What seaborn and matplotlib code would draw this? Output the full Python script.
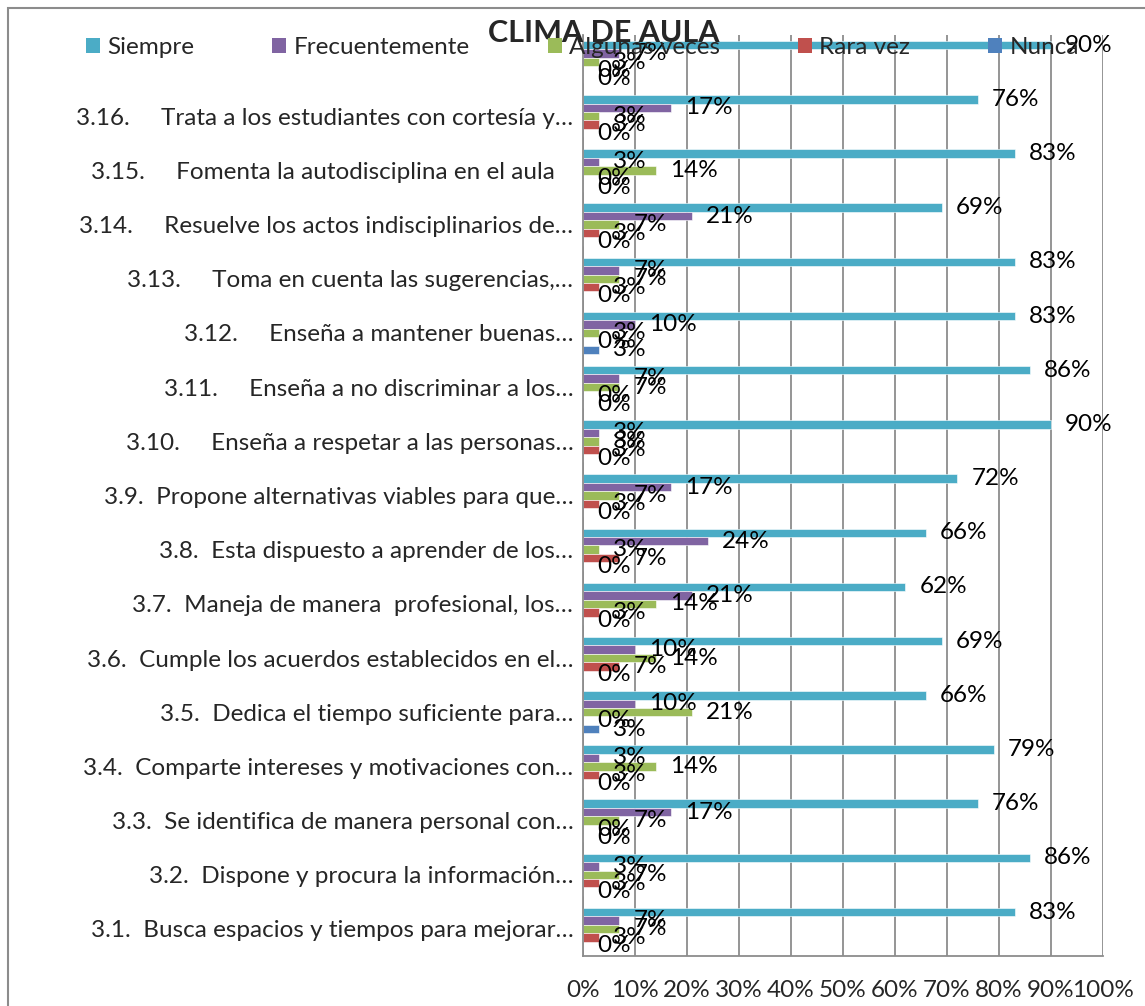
import matplotlib
matplotlib.use("Agg")
import matplotlib.pyplot as plt
import matplotlib.patches as mpatches
import seaborn as sns
import pandas as pd

# ---------------- data ----------------
categories = [
    "",
    "3.16.     Trata a los estudiantes con cortesía y…",
    "3.15.     Fomenta la autodisciplina en el aula   ",
    "3.14.     Resuelve los actos indisciplinarios de…",
    "3.13.     Toma en cuenta las sugerencias,…",
    "3.12.     Enseña a mantener buenas…",
    "3.11.     Enseña a no discriminar a los…",
    "3.10.     Enseña a respetar a las personas…",
    "3.9.  Propone alternativas viables para que…",
    "3.8.  Esta dispuesto a aprender de los…",
    "3.7.  Maneja de manera  profesional, los…",
    "3.6.  Cumple los acuerdos establecidos en el…",
    "3.5.  Dedica el tiempo suficiente para…",
    "3.4.  Comparte intereses y motivaciones con…",
    "3.3.  Se identifica de manera personal con…",
    "3.2.  Dispone y procura la información…",
    "3.1.  Busca espacios y tiempos para mejorar…",
]
series_names = ["Siempre", "Frecuentemente", "Algunas veces", "Rara vez", "Nunca"]
siempre        = [90, 76, 83, 69, 83, 83, 86, 90, 72, 66, 62, 69, 66, 79, 76, 86, 83]
frecuentemente = [7, 17, 3, 21, 7, 10, 7, 3, 17, 24, 21, 10, 10, 3, 17, 3, 7]
algunas_veces  = [3, 3, 14, 7, 7, 3, 7, 3, 7, 3, 14, 14, 21, 14, 7, 7, 7]
rara_vez       = [0, 3, 0, 3, 3, 0, 0, 3, 3, 7, 3, 7, 0, 3, 0, 3, 3]
nunca          = [0, 0, 0, 0, 0, 3, 0, 0, 0, 0, 0, 0, 3, 0, 0, 0, 0]
x_ticks = [0, 10, 20, 30, 40, 50, 60, 70, 80, 90, 100]
title = "CLIMA DE AULA"

colors = ["#4BACC6", "#8064A2", "#9BBB59", "#C0504D", "#4F81BD"]

series_values = [siempre, frecuentemente, algunas_veces, rara_vez, nunca]
rows = []
for name, vals in zip(series_names, series_values):
    for cat, v in zip(categories, vals):
        rows.append({"cat": cat, "serie": name, "val": v})
df = pd.DataFrame(rows)

# ---------------- plot ----------------
sns.set_theme(style="white")
FONT = ["Lato", "DejaVu Sans"]
plt.rcParams["font.family"] = FONT
FS = 17.5
FSPX = FS * 100 / 72

W, H = 1145, 1006
fig = plt.figure(figsize=(W / 100, H / 100), dpi=100)
ax = fig.add_axes([583 / W, 1 - 956 / H, 520 / W, (956 - 35) / H])

sns.barplot(
    data=df, y="cat", x="val", hue="serie", orient="h",
    order=categories, hue_order=series_names, palette=colors,
    width=0.78, ax=ax, errorbar=None, edgecolor="white", linewidth=0.4,
    saturation=1, legend=False,
)

for cont, vals in zip(ax.containers, series_values):
    ax.bar_label(cont, labels=[f"{v}%" for v in vals], padding=10,
                 fontsize=FS, color="black")

ax.set_xlim(0, 100)
ax.set_xticks(x_ticks)
ax.set_xticklabels([f"{t}%" for t in x_ticks], fontsize=FS)
ax.set_xlabel("")
ax.set_ylabel("")
ax.tick_params(axis="y", length=0, pad=7, labelsize=FS)
ax.tick_params(axis="x", length=0, pad=17, labelsize=FS)
ax.grid(axis="x", color="#8c8c8c", linewidth=1.3)
ax.grid(axis="y", visible=False)
ax.set_axisbelow(True)
for s in ["top", "right"]:
    ax.spines[s].set_visible(False)
ax.spines["left"].set_color("#8c8c8c")
ax.spines["left"].set_linewidth(1.3)
ax.spines["bottom"].set_color("#8c8c8c")
ax.spines["bottom"].set_linewidth(1.3)

# outer chart border
fig.patches.append(mpatches.Rectangle((8 / W, -0.1), 1.2, 1 - 8 / H + 0.1,
                                      transform=fig.transFigure, fill=False,
                                      edgecolor="#8c8c8c", linewidth=1.5))

fig.text(604 / W, 1 - 33 / H, title, ha="center", va="center",
         fontsize=22, fontweight="bold", family=FONT)

handles = [mpatches.Patch(facecolor=c, edgecolor="none") for c in colors]
sq = 14 / FSPX
fig.legend(handles, series_names, loc="center left",
           bbox_to_anchor=(86 / W, 1 - 48 / H),
           ncol=5, frameon=False, fontsize=FS, handlelength=sq, handleheight=sq,
           handletextpad=0.3, columnspacing=78 / FSPX,
           borderpad=0, borderaxespad=0)

fig.savefig("out.png", dpi=100)
